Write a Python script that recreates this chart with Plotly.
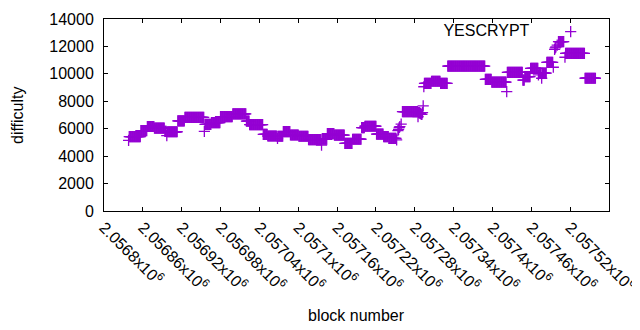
import plotly.graph_objects as go

# Runs of blocks that share the same difficulty (start block, end block, difficulty)
run_start = [2056838, 2056839, 2056857, 2056867, 2056878, 2056894, 2056897, 2056898,
             2056914, 2056925, 2056955, 2056956, 2056966, 2056980, 2056999, 2057020,
             2057025, 2057046, 2057053, 2057067, 2057068, 2057069, 2057077, 2057088,
             2057101, 2057116, 2057136, 2057137, 2057145, 2057156, 2057172, 2057184,
             2057198, 2057203, 2057221, 2057232, 2057240, 2057252, 2057254, 2057255,
             2057256, 2057257, 2057259, 2057261, 2057285, 2057286, 2057288, 2057290,
             2057292, 2057293, 2057294, 2057295, 2057306, 2057320, 2057331, 2057389,
             2057399, 2057422, 2057423, 2057447, 2057450, 2057459, 2057471, 2057472,
             2057476, 2057477, 2057484, 2057494, 2057496, 2057497, 2057498, 2057500,
             2057502, 2057512, 2057513, 2057543]
run_end = [2056838, 2056856, 2056866, 2056877, 2056893, 2056896, 2056897, 2056913,
           2056924, 2056954, 2056955, 2056965, 2056979, 2056998, 2057019, 2057024,
           2057045, 2057052, 2057066, 2057067, 2057068, 2057076, 2057087, 2057100,
           2057115, 2057135, 2057136, 2057144, 2057155, 2057171, 2057183, 2057197,
           2057202, 2057220, 2057231, 2057239, 2057251, 2057252, 2057254, 2057255,
           2057256, 2057257, 2057259, 2057284, 2057285, 2057287, 2057289, 2057291,
           2057292, 2057293, 2057294, 2057305, 2057319, 2057330, 2057388, 2057398,
           2057421, 2057422, 2057446, 2057449, 2057458, 2057470, 2057471, 2057475,
           2057476, 2057483, 2057493, 2057494, 2057496, 2057497, 2057498, 2057500,
           2057510, 2057512, 2057542, 2057559]
run_difficulty = [5150, 5420, 5860, 6160, 6040, 5800, 5500, 5780,
                  6570, 6820, 5800, 6310, 6450, 6880, 7080, 6560,
                  6300, 5590, 5470, 5450, 5300, 5450, 5790, 5540,
                  5450, 5210, 4810, 5230, 5640, 5530, 4930, 5230,
                  6080, 6180, 5610, 5420, 5300, 5180, 5860, 5950,
                  6090, 6150, 6340, 7240, 6880, 7180, 7120, 7050,
                  7180, 7660, 9060, 9310, 9460, 9310, 10560, 9600,
                  9390, 8700, 10110, 9550, 9800, 10400, 9920, 10060,
                  9680, 10060, 10830, 10480, 11790, 11900, 11960, 12100,
                  12350, 11210, 11500, 9680]

tick_vals = [2056800, 2056860, 2056920, 2056980, 2057040, 2057100, 2057160,
             2057220, 2057280, 2057340, 2057400, 2057460, 2057520, 2057580]
tick_mantissa = ["2.0568", "2.05686", "2.05692", "2.05698", "2.05704", "2.0571",
                 "2.05716", "2.05722", "2.05728", "2.05734", "2.0574", "2.05746",
                 "2.05752", "2.05758"]
y_ticks = [0, 2000, 4000, 6000, 8000, 10000, 12000, 14000]
y_labels = ["0", "2000", "4000", "6000", "8000", "10000", "12000", "14000"]

# expand runs: every block in a run has the run's difficulty
blocks, difficulty = [], []
for s, e, d in zip(run_start, run_end, run_difficulty):
    for b in range(s, e + 1):
        blocks.append(b)
        difficulty.append(d)

COLOR = "#9400D3"
FONT = "Liberation Sans, Arial, sans-serif"

fig = go.Figure()
fig.add_trace(go.Scatter(
    x=blocks, y=difficulty, mode="markers", name="\u200b",
    marker=dict(symbol="cross-thin", size=8, line=dict(color=COLOR, width=1.3), color=COLOR),
    showlegend=True,
))

fig.update_layout(
    width=640, height=330,
    margin=dict(l=96, r=39, t=11, b=127, autoexpand=False),
    plot_bgcolor="white", paper_bgcolor="white",
    font=dict(family=FONT, size=16, color="black"),
    showlegend=True,
    legend=dict(x=0.975, y=1.022, xanchor="right", yanchor="top",
                bgcolor="rgba(0,0,0,0)", font=dict(size=16),
                title=dict(text="YESCRYPT\u00a0\u00a0\u00a0", side="left", font=dict(size=16)),
                itemwidth=30, tracegroupgap=0),
    xaxis=dict(
        range=[2056800, 2057580], tickmode="array", tickvals=tick_vals,
        ticktext=[m + "x10<sup>6</sup>" for m in tick_mantissa],
        tickangle=45, ticks="inside", ticklen=4, tickcolor="black",
        showline=True, linecolor="black", linewidth=1, mirror="allticks",
        showgrid=False, zeroline=False, automargin=False,
        tickfont=dict(family=FONT, size=16, color="black"),
    ),
    yaxis=dict(
        range=[0, 14000], tickmode="array", tickvals=y_ticks, ticktext=y_labels,
        ticks="inside", ticklen=4, tickcolor="black",
        showline=True, linecolor="black", linewidth=1, mirror="allticks",
        showgrid=False, zeroline=False, ticklabelstandoff=6, automargin=False,
        tickfont=dict(family=FONT, size=16, color="black"),
    ),
    annotations=[
        dict(text="block number", x=0.5, y=-0.5417, xref="paper", yref="paper",
             xanchor="center", yanchor="middle", showarrow=False,
             font=dict(family=FONT, size=16, color="black")),
        dict(text="difficulty", x=-0.1723, y=0.5, xref="paper", yref="paper",
             xanchor="center", yanchor="middle", showarrow=False, textangle=-90,
             font=dict(family=FONT, size=16, color="black")),
    ],
)

fig.write_html("out.html")
